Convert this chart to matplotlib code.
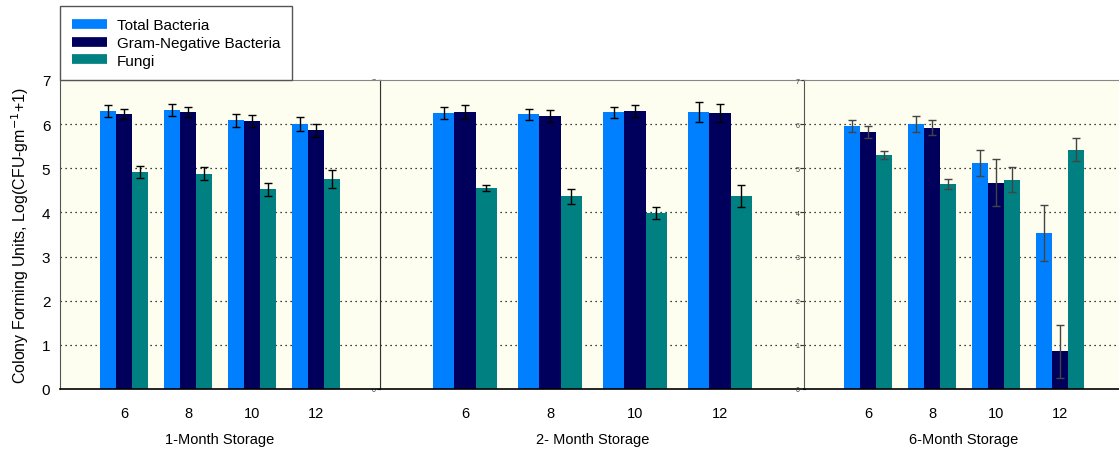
import matplotlib
matplotlib.use("Agg")
import numpy as np
import matplotlib.pyplot as plt
from matplotlib.lines import Line2D

plt.rcParams["font.family"] = ["Liberation Sans", "DejaVu Sans"]

# Data
weeks = ["6", "8", "10", "12"]
series = ["Total Bacteria", "Gram-Negative Bacteria", "Fungi"]
colors = ["#0080FF", "#00005C", "#008080"]
panels = ["1-Month Storage", "2- Month Storage", "6-Month Storage"]

# values[panel][series] -> one value per week
values = [
    [[6.30, 6.32, 6.09, 6.00],
     [6.23, 6.27, 6.07, 5.86],
     [4.92, 4.88, 4.52, 4.75]],
    [[6.25, 6.22, 6.27, 6.27],
     [6.27, 6.18, 6.30, 6.25],
     [4.55, 4.37, 3.98, 4.37]],
    [[5.96, 6.00, 5.12, 3.53],
     [5.82, 5.92, 4.67, 0.85],
     [5.30, 4.64, 4.74, 5.42]],
]
errors = [
    [[0.13, 0.13, 0.15, 0.16],
     [0.12, 0.11, 0.14, 0.15],
     [0.14, 0.14, 0.15, 0.20]],
    [[0.14, 0.13, 0.12, 0.23],
     [0.16, 0.13, 0.13, 0.20],
     [0.07, 0.17, 0.14, 0.25]],
    [[0.14, 0.18, 0.29, 0.64],
     [0.13, 0.17, 0.53, 0.59],
     [0.10, 0.11, 0.28, 0.26]],
]

W, H = 1119, 452
fig = plt.figure(figsize=(W / 100, H / 100), dpi=100)

# axes boxes in pixels: left, width
boxes = [(60, 320), (380, 425), (804, 320)]
zorders = [3, 1, 2]
bottom_px, top_px = 390, 81

bg = "#FDFDF0"
bar_w = 0.25
x = np.arange(1, len(weeks) + 1)

axes = []
for p, (left, width) in enumerate(boxes):
    ax = fig.add_axes([left / W, (H - bottom_px) / H, width / W,
                       (bottom_px - top_px) / H],
                      zorder=zorders[p])
    ax.set_facecolor(bg)
    ecol = "black" if p < 2 else "#444444"
    for s in range(3):
        ax.bar(x + (s - 1) * bar_w, values[p][s], width=bar_w,
               color=colors[s], zorder=2)
        ax.errorbar(x + (s - 1) * bar_w, values[p][s], yerr=errors[p][s],
                    fmt="none", ecolor=ecol, elinewidth=1, capsize=3,
                    capthick=1, zorder=3)
    ax.set_xlim(0, 5)
    ax.set_ylim(0, 7)
    ax.set_xticks(x)
    ax.set_xticklabels(weeks, fontsize=10.5)
    ax.tick_params(axis="x", length=0, pad=12)
    ax.set_yticks(range(0, 8))
    for yv in range(1, 7):
        ax.axhline(yv, color="black", linestyle=(0, (1, 3)), linewidth=0.9,
                   zorder=1)
    if p == 0:
        ax.tick_params(axis="y", labelsize=11, length=0, pad=7)
        ax.set_ylabel("Colony Forming Units, Log(CFU-gm$^{-1}$+1)",
                      fontsize=11.5, labelpad=8)
    else:
        ax.tick_params(axis="y", labelsize=5, length=2, pad=1,
                       colors="#333333")
    ax.set_xlabel(panels[p], fontsize=10.5, labelpad=9)
    ax.spines["top"].set_color("#888888")
    ax.spines["left"].set_color("#555555")
    ax.spines["right"].set_color("#333333")
    ax.spines["bottom"].set_color("black")
    ax.spines["bottom"].set_linewidth(1.2)
    axes.append(ax)

handles = [Line2D([0], [0], color=c, lw=7, solid_capstyle="butt")
           for c in colors]
leg = axes[0].legend(handles, series, loc="lower left",
                     bbox_to_anchor=(0, 1), borderaxespad=0,
                     fancybox=False, edgecolor="#555555", framealpha=1,
                     fontsize=11, handlelength=2.3, handletextpad=0.6,
                     labelspacing=0.25, borderpad=0.8)
leg.get_frame().set_linewidth(1)

fig.savefig("out.png", dpi=100)
